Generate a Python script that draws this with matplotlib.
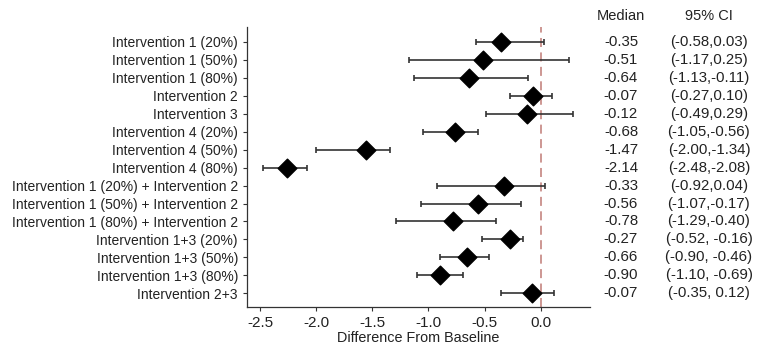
import matplotlib.pyplot as plt
import matplotlib.transforms as mtransforms

plt.rcParams['font.family'] = ['Liberation Sans', 'DejaVu Sans']

# ===== DATA =====
labels = ["Intervention 1 (20%)", "Intervention 1 (50%)", "Intervention 1 (80%)",
          "Intervention 2", "Intervention 3",
          "Intervention 4 (20%)", "Intervention 4 (50%)", "Intervention 4 (80%)",
          "Intervention 1 (20%) + Intervention 2",
          "Intervention 1 (50%) + Intervention 2",
          "Intervention 1 (80%) + Intervention 2",
          "Intervention 1+3 (20%)", "Intervention 1+3 (50%)",
          "Intervention 1+3 (80%)", "Intervention 2+3"]

# point positions as drawn
points = [-0.35, -0.51, -0.64, -0.07, -0.12, -0.76, -1.56, -2.26,
          -0.33, -0.56, -0.78, -0.27, -0.66, -0.90, -0.08]
ci_low = [-0.58, -1.17, -1.13, -0.27, -0.49, -1.05, -2.00, -2.48,
          -0.92, -1.07, -1.29, -0.52, -0.90, -1.10, -0.35]
ci_high = [0.03, 0.25, -0.11, 0.10, 0.29, -0.56, -1.34, -2.08,
           0.04, -0.17, -0.40, -0.16, -0.46, -0.69, 0.12]

# table text
median_txt = ["-0.35", "-0.51", "-0.64", "-0.07", "-0.12", "-0.68", "-1.47", "-2.14",
              "-0.33", "-0.56", "-0.78", "-0.27", "-0.66", "-0.90", "-0.07"]
ci_txt = ["(-0.58,0.03)", "(-1.17,0.25)", "(-1.13,-0.11)", "(-0.27,0.10)",
          "(-0.49,0.29)", "(-1.05,-0.56)", "(-2.00,-1.34)", "(-2.48,-2.08)",
          "(-0.92,0.04)", "(-1.07,-0.17)", "(-1.29,-0.40)", "(-0.52, -0.16)",
          "(-0.90, -0.46)", "(-1.10, -0.69)", "(-0.35, 0.12)"]

ypos = list(range(1, len(labels) + 1))

# ===== PLOT =====
fig = plt.figure(figsize=(7.67, 3.54), dpi=100)
ax = fig.add_axes([0.322, 0.133, 0.447, 0.791])

ax.axvline(0, color="#c98f8a", linestyle=(0, (5, 3)), linewidth=1.3, zorder=1)

xerr = [[p - lo for p, lo in zip(points, ci_low)],
        [hi - p for p, hi in zip(points, ci_high)]]
ax.errorbar(points, ypos, xerr=xerr, fmt="none", ecolor="#333333",
            elinewidth=1.2, capsize=2.2, capthick=1.2, zorder=2)
ax.scatter(points, ypos, marker="D", s=90, color="black", zorder=3)

ax.set_xlim(-2.62, 0.44)
ax.set_ylim(15.76, 0.16)
ax.set_yticks(ypos)
ax.set_yticklabels(labels)
ax.set_xticks([-2.5, -2.0, -1.5, -1.0, -0.5, 0.0])
ax.set_xticklabels(["-2.5", "-2.0", "-1.5", "-1.0", "-0.5", "0.0"])
ax.set_xlabel("Difference From Baseline", fontsize=10.4, color="#222222", labelpad=1)
ax.tick_params(axis="both", colors="#333333", length=3,
               width=0.8, labelcolor="#222222")
ax.tick_params(axis="y", labelsize=10)
ax.tick_params(axis="x", labelsize=11)
for s in ["top", "right"]:
    ax.spines[s].set_visible(False)
for s in ["left", "bottom"]:
    ax.spines[s].set_color("#333333")
    ax.spines[s].set_linewidth(0.9)

# ===== TABLE =====
trans = mtransforms.blended_transform_factory(fig.transFigure, ax.transData)
ax.text(621 / 767, -0.45, "Median", transform=trans, ha="center", va="center",
        fontsize=10.5, color="#222222", clip_on=False)
ax.text(709 / 767, -0.45, "95% CI", transform=trans, ha="center", va="center",
        fontsize=10.5, color="#222222", clip_on=False)
for y, m, c in zip(ypos, median_txt, ci_txt):
    ax.text(621 / 767, y, m, transform=trans, ha="center", va="center",
            fontsize=10.8, color="#222222", clip_on=False)
    ax.text(709 / 767, y, c, transform=trans, ha="center", va="center",
            fontsize=10.8, color="#222222", clip_on=False)

fig.savefig("out.png", dpi=100)
